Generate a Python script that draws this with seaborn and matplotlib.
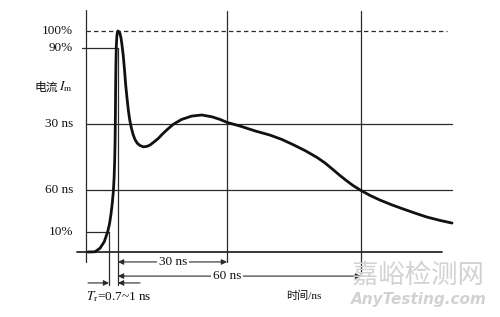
import matplotlib
matplotlib.use("Agg")
import matplotlib.pyplot as plt
import seaborn as sns
import pandas as pd

# ---- data (schematic units: x = horizontal position, y = % of peak current) ----
time_x = [88, 95, 100, 104.3, 107.7, 109.5, 111, 112.3, 113.3, 114.1, 114.7, 115.1, 115.4,
          115.6, 115.9, 116.3, 116.8, 117.4, 117.9, 118.7, 120, 121, 122, 123.3, 124.5,
          125.7, 127, 128.3, 129.5, 130.7, 132, 133.3, 135, 137.3, 140, 143.3, 147, 150,
          154, 158.3, 162.5, 166.7, 173.3, 181.7, 191.7, 201.7, 211.7, 220, 227.3, 240,
          255, 270, 282, 293, 305, 317, 325, 333, 340, 347, 353, 360, 370, 380, 392, 403,
          415, 427, 440, 452]
current_pct = [0, 0.1, 1.7, 4.7, 9.2, 12.7, 17.2, 22.2, 27.1, 33.5, 41.6, 50.7, 62.0,
               73.3, 84.6, 92.8, 97.3, 99.5, 100, 99.8, 98.9, 96.8, 93.7, 88.7, 82.4,
               75.6, 69.7, 64.3, 60.4, 57.5, 55.0, 52.9, 50.9, 49.2, 48.2, 47.6, 47.8, 48.4,
               49.8, 51.4, 53.4, 55.2, 57.8, 60.0, 61.5, 62.0, 61.2, 60.0, 58.6, 57.0,
               54.8, 52.9, 50.9, 48.6, 45.9, 42.8, 40.3, 37.3, 34.6, 32.1, 30.1, 28.1, 25.6,
               23.5, 21.3, 19.5, 17.6, 15.8, 14.3, 13.1]
level_labels = ["100%", "90%", "30 ns", "60 ns", "10%"]
level_values = [100, 92.3, 57.9, 28.1, 9.0]
t10, t90, t30, t60 = 109, 118, 227, 361
span_labels = ["30 ns", "60 ns"]
rise_label = r"$T_{\rm r}$=0.7~1 ns"
x_label = "时间/ns"
y_label_cn = "电流"
y_label_sym = r"$I_{\rm m}$"

df = pd.DataFrame({"t": time_x, "i": current_pct})

sns.set_theme(style="white")
plt.rcParams["font.family"] = ["Liberation Serif", "Noto Sans CJK SC", "DejaVu Sans"]
plt.rcParams["mathtext.fontset"] = "stix"

fig = plt.figure(figsize=(5, 3.17), dpi=100)
ax = fig.add_axes([0, 0, 1, 1])
ax.set_xlim(0, 500)
ax.set_ylim(-29.41, 114.03)

lc = "#2a2a2a"
tc = "#111111"
lw = 0.9

# axes lines
ax.plot([86, 86], [109.5, -4.5], color=lc, lw=lw)
ax.plot([77, 442], [0, 0], color=lc, lw=1.3)

# level lines
ax.plot([86, 447], [level_values[0]] * 2, color=lc, lw=lw, ls=(0, (3.5, 2.5)))
ax.plot([82, t90], [level_values[1]] * 2, color=lc, lw=lw)
ax.plot([86, 452], [level_values[2]] * 2, color=lc, lw=lw)
ax.plot([86, 452], [level_values[3]] * 2, color=lc, lw=lw)
ax.plot([86, t10], [level_values[4]] * 2, color=lc, lw=lw)

# vertical markers
ax.plot([t10, t10], [level_values[4], -14.9], color=lc, lw=lw)
ax.plot([t90, t90], [level_values[1], -14.9], color=lc, lw=lw)
ax.plot([t30, t30], [109.0, -4.5], color=lc, lw=lw)
ax.plot([t60, t60], [109.0, -11.0], color=lc, lw=lw)

# waveform
sns.lineplot(data=df, x="t", y="i", ax=ax, sort=False, estimator=None,
             color="#111111", lw=2.0, solid_joinstyle="round", solid_capstyle="round")
ax.axis("off")

# arrows
ap = dict(arrowstyle="-|>", mutation_scale=8, lw=0.8, color=lc, shrinkA=0, shrinkB=0)
for x0, x1, yv, lab, xl in [(t90, t30, -4.5, span_labels[0], 173),
                            (t90, t60, -10.9, span_labels[1], 227)]:
    ax.annotate("", xy=(x0, yv), xytext=(xl, yv), arrowprops=ap)
    ax.annotate("", xy=(x1, yv), xytext=(xl, yv), arrowprops=ap)
    ax.text(xl, yv, lab, ha="center", va="center", fontsize=9.5, color=tc,
            bbox=dict(fc="white", ec="none", pad=1.5))
ax.annotate("", xy=(t10, -14.0), xytext=(88, -14.0), arrowprops=ap)
ax.annotate("", xy=(t90, -14.0), xytext=(140, -14.0), arrowprops=ap)

# labels
for lab, val in zip(level_labels, level_values):
    ax.text(73, val, lab, ha="right", va="center", fontsize=9.5, color=tc)
ax.text(58, 74.7, y_label_cn, ha="right", va="center", fontsize=8.5, color=tc,
        family=["Noto Sans CJK SC"])
ax.text(73, 74.7, y_label_sym, ha="right", va="center", fontsize=9.5, color=tc)
ax.text(86, -20.4, rise_label, ha="left", va="center", fontsize=9.5, color=tc)
ax.text(304, -19.9, x_label, ha="center", va="center", fontsize=8, color=tc)

# watermark
ax.text(418, -10.4, "嘉峪检测网", ha="center", va="center", fontsize=19,
        color="#d2d2d2", family=["Noto Sans CJK SC"])
ax.text(419, -21.7, "AnyTesting.com", ha="center", va="center", fontsize=11,
        color="#d2d2d2", style="italic", weight="bold", family=["DejaVu Sans"])

fig.savefig("out.png", dpi=100)
